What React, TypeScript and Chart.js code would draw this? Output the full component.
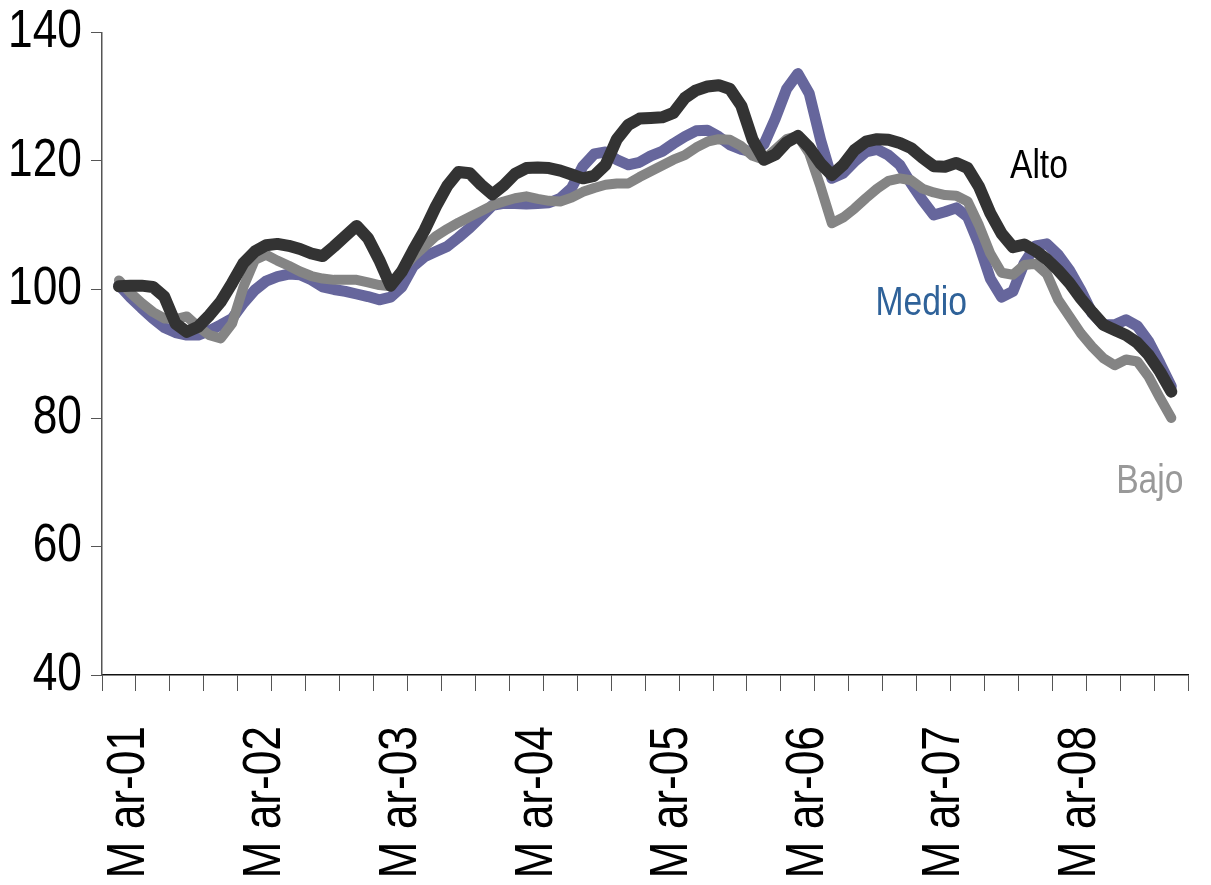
import React, { useEffect, useRef } from 'react';
import { Chart, registerables } from 'chart.js';

Chart.register(...registerables);

// Monthly categories Jan-01 .. Dec-08
const YEARS = ['01', '02', '03', '04', '05', '06', '07', '08'];
const MONTHS = ['Jan', 'Feb', 'Mar', 'Apr', 'May', 'Jun', 'Jul', 'Aug', 'Sep', 'Oct', 'Nov', 'Dec'];
const categories = YEARS.flatMap((yy) => MONTHS.map((m) => `${m}-${yy}`));

// Axis tick labels (x: shown at each March)
const xTickLabels = ['M ar-01', 'M ar-02', 'M ar-03', 'M ar-04', 'M ar-05', 'M ar-06', 'M ar-07', 'M ar-08'];
const yTicks = [40, 60, 80, 100, 120, 140];

// Series values, Feb-01 .. Nov-08
const alto = [
  100.5, 100.6, 100.6, 100.4, 98.9, 94.7, 93.4, 94.2, 96.0, 98.1, 101.0, 104.1,
  105.9, 106.9, 107.1, 106.8, 106.3, 105.6, 105.2, 106.7, 108.3, 109.9, 108.0, 104.6,
  100.6, 102.8, 106.1, 109.2, 112.9, 116.1, 118.3, 118.1, 116.3, 114.8, 116.2, 118.0,
  118.9, 119.0, 118.9, 118.5, 117.9, 117.3, 117.7, 119.4, 123.4, 125.6, 126.6, 126.7,
  126.8, 127.5, 129.8, 131.0, 131.6, 131.8, 131.2, 128.6, 123.3, 120.2, 121.0, 122.9,
  123.9, 122.1, 119.6, 117.8, 119.4, 121.7, 123.0, 123.4, 123.3, 122.8, 122.0, 120.5,
  119.2, 119.1, 119.7, 118.9, 116.0, 111.9, 108.7, 106.6, 107.0, 106.0, 104.7, 103.0,
  101.0, 98.6, 96.5, 94.5, 93.7, 92.9, 91.7, 89.8, 87.2, 84.1,
];
const medio = [
  100.7, 98.8, 97.1, 95.5, 94.1, 93.3, 92.9, 92.9, 93.6, 94.5, 95.5, 97.9,
  99.9, 101.3, 102.0, 102.4, 102.3, 101.5, 100.4, 100.0, 99.7, 99.3, 98.9, 98.4,
  98.8, 100.4, 103.6, 105.1, 105.9, 106.7, 108.1, 109.6, 111.3, 113.1, 113.4, 113.4,
  113.3, 113.4, 113.5, 114.2, 115.8, 119.2, 121.1, 121.4, 120.2, 119.4, 119.8, 120.8,
  121.5, 122.7, 123.8, 124.7, 124.8, 123.8, 122.5, 121.8, 121.4, 122.6, 126.6, 131.2,
  133.6, 130.5, 123.3, 117.3, 118.1, 119.9, 121.4, 121.8, 120.9, 119.4, 116.5, 113.9,
  111.6, 112.1, 112.7, 111.3, 107.0, 101.7, 98.8, 99.7, 104.1, 106.8, 107.1, 105.4,
  103.0, 99.9, 96.3, 94.5, 94.5, 95.3, 94.3, 91.9, 88.5, 84.9,
];
const bajo = [
  101.4, 99.5, 97.9, 96.5, 95.5, 95.4, 95.8, 94.2, 92.9, 92.4, 94.7, 100.4,
  104.6, 105.4, 104.5, 103.7, 102.8, 102.1, 101.7, 101.5, 101.5, 101.5, 101.1, 100.7,
  100.5, 103.0, 105.1, 106.7, 108.3, 109.4, 110.4, 111.3, 112.2, 113.1, 113.7, 114.2,
  114.5, 114.1, 113.8, 113.7, 114.3, 115.2, 115.8, 116.3, 116.5, 116.5, 117.5, 118.4,
  119.3, 120.2, 120.9, 122.1, 123.0, 123.4, 123.3, 122.3, 120.8, 120.2, 121.8, 123.4,
  123.9, 121.2, 116.0, 110.3, 111.2, 112.6, 114.2, 115.7, 116.9, 117.3, 117.0, 115.7,
  115.1, 114.7, 114.6, 113.7, 110.0, 105.6, 102.6, 102.3, 103.8, 104.0, 102.4, 98.4,
  95.8, 93.2, 91.1, 89.3, 88.2, 89.1, 88.8, 86.4, 83.1, 80.0,
];

// Series names drawn next to the lines (anchored in data units: category index, value)
const seriesNames = ['Alto', 'Medio', 'Bajo'];
const nameAnchorIndex = [82.3, 71.9, 92.1];
const nameAnchorValue = [117.3, 96.0, 68.3];
const nameColors = ['#000000', '#2f6299', '#999999'];

const FONT = "'Liberation Sans', Arial, sans-serif";
const NARROW = 0.82; // horizontal squeeze to mimic a narrow face

const pad = (vals: number[]) => [null, ...vals, null];

function narrowText(
  ctx: CanvasRenderingContext2D,
  text: string,
  x: number,
  y: number,
  align: CanvasTextAlign,
  baseline: CanvasTextBaseline,
  rotation: number,
) {
  ctx.save();
  ctx.translate(x, y);
  if (rotation) ctx.rotate(rotation);
  ctx.scale(NARROW, 1);
  ctx.textAlign = align;
  ctx.textBaseline = baseline;
  ctx.fillText(text, 0, 0);
  ctx.restore();
}

const textPlugin = {
  id: 'narrowTexts',
  afterDraw(chart: any) {
    const { ctx } = chart;
    const xs = chart.scales.x;
    const ys = chart.scales.y;
    ctx.save();
    ctx.fillStyle = '#000000';
    ctx.font = `54px ${FONT}`;
    // y tick labels
    yTicks.forEach((v) => {
      narrowText(ctx, String(v), xs.left - 11 - 9, ys.getPixelForValue(v), 'right', 'middle', 0);
    });
    // x tick labels, rotated, at each March
    xTickLabels.forEach((lab, k) => {
      const px = xs.getPixelForValue(2 + 12 * k);
      narrowText(ctx, lab, px - 1, ys.bottom + 16 + 35, 'right', 'middle', -Math.PI / 2);
    });
    // series names
    ctx.font = `41px ${FONT}`;
    seriesNames.forEach((name, k) => {
      ctx.fillStyle = nameColors[k];
      narrowText(
        ctx,
        name,
        xs.getPixelForValue(nameAnchorIndex[k]),
        ys.getPixelForValue(nameAnchorValue[k]),
        'center',
        'alphabetic',
        0,
      );
    });
    ctx.restore();
  },
};

export default function App() {
  const ref = useRef<HTMLCanvasElement>(null);

  useEffect(() => {
    if (!ref.current) return;
    const chart = new Chart(ref.current, {
      type: 'line',
      data: {
        labels: categories,
        datasets: [
          { label: 'Alto', data: pad(alto), borderColor: '#333333', borderWidth: 12 },
          { label: 'Bajo', data: pad(bajo), borderColor: '#848484', borderWidth: 10 },
          { label: 'Medio', data: pad(medio), borderColor: '#66669c', borderWidth: 11 },
        ].map((d) => ({
          ...d,
          pointRadius: 0,
          pointHoverRadius: 0,
          tension: 0,
          fill: false,
          borderCapStyle: 'round' as const,
          borderJoinStyle: 'round' as const,
        })),
      },
      options: {
        animation: false,
        responsive: true,
        maintainAspectRatio: false,
        layout: { padding: { top: 32.5, right: 22.7, bottom: 0, left: 0 } },
        plugins: {
          legend: { display: false },
          tooltip: { enabled: false },
        },
        scales: {
          x: {
            type: 'category',
            offset: true,
            grid: {
              offset: true,
              drawOnChartArea: false,
              drawTicks: true,
              tickLength: 16,
              tickWidth: 1,
              color: (c: any) => (c.index === undefined || c.index % 3 === 0 ? '#555555' : 'rgba(0,0,0,0)'),
            },
            border: { display: true, color: '#111111', width: 1.5 },
            ticks: { display: false, autoSkip: false },
            afterFit: (s: any) => {
              s.height = 210;
            },
          },
          y: {
            type: 'linear',
            min: 40,
            max: 140,
            afterBuildTicks: (s: any) => {
              s.ticks = yTicks.map((v) => ({ value: v }));
            },
            grid: {
              drawOnChartArea: false,
              drawTicks: true,
              tickLength: 11,
              color: '#555555',
            },
            border: { display: true, color: '#555555', width: 1.5 },
            ticks: { display: false },
            afterFit: (s: any) => {
              s.width = 102;
            },
          },
        },
      },
      plugins: [textPlugin],
    });
    return () => chart.destroy();
  }, []);

  return (
    <div style={{ position: 'fixed', left: 0, top: 0, width: 1211, height: 885, background: '#fff' }}>
      <canvas ref={ref} />
    </div>
  );
}
